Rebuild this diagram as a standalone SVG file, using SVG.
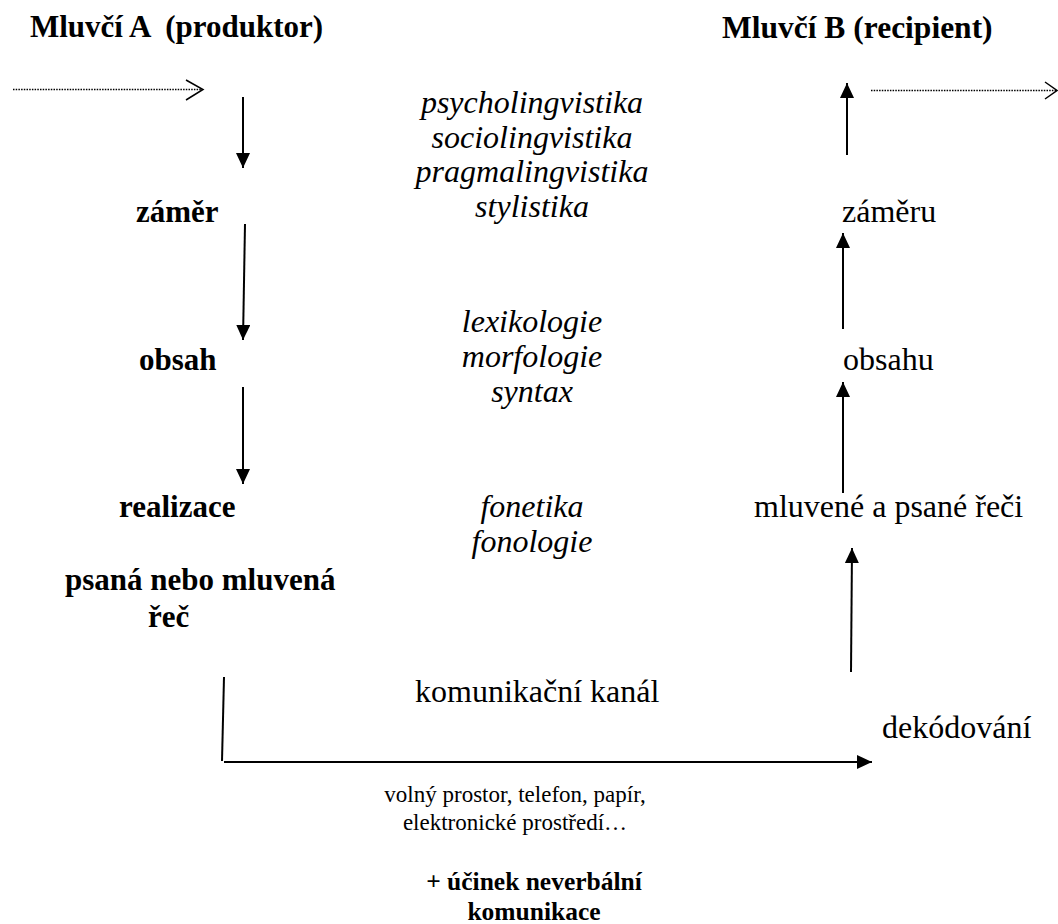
<svg xmlns="http://www.w3.org/2000/svg" width="1058" height="924" viewBox="0 0 1058 924">
<defs>
<style>
text{font-family:"Liberation Serif","Times New Roman",serif;fill:#000;white-space:pre}
.b{font-weight:bold;font-size:31px}
.r{font-size:32px}
.i{font-style:italic;font-size:32px;text-anchor:middle}
.s{font-size:23px;text-anchor:middle}
.sb{font-size:25.5px;font-weight:bold;text-anchor:middle}
.ln{stroke:#000;stroke-width:2;fill:none}
.dot{stroke:#000;stroke-width:1.5;stroke-dasharray:1.5 1.2;fill:none}
.chev{stroke:#000;stroke-width:1.5;fill:none}
</style>
<marker id="ah" markerUnits="userSpaceOnUse" markerWidth="16" markerHeight="14" refX="15" refY="7" orient="auto">
<path d="M0,0 L15,7 L0,14 z" fill="#000"/>
</marker>
</defs>
<rect width="1058" height="924" fill="#fff"/>
<g id="speakerA"><text class="b" x="30" y="37">Mluvčí A  (produktor)</text></g>
<g id="speakerB"><text class="b" x="722" y="38" style="font-size:31.5px">Mluvčí B (recipient)</text></g>
<g id="zamer"><text class="b" x="136" y="222">záměr</text></g>
<g id="obsah"><text class="b" x="139" y="370">obsah</text></g>
<g id="realizace"><text class="b" x="119" y="517">realizace</text></g>
<g id="rec"><text class="b" x="65" y="590">psaná nebo mluvená</text><text class="b" x="148" y="627">řeč</text></g>
<g id="disc1"><text class="i" x="532" y="113">psycholingvistika</text><text class="i" x="532" y="148">sociolingvistika</text><text class="i" x="532" y="182">pragmalingvistika</text><text class="i" x="532" y="217">stylistika</text></g>
<g id="disc2"><text class="i" x="532" y="332">lexikologie</text><text class="i" x="532" y="367">morfologie</text><text class="i" x="532" y="402">syntax</text></g>
<g id="disc3"><text class="i" x="532" y="517">fonetika</text><text class="i" x="532" y="552">fonologie</text></g>
<g id="zameru"><text class="r" x="842" y="222">záměru</text></g>
<g id="obsahu"><text class="r" x="843" y="370">obsahu</text></g>
<g id="reci"><text class="r" x="754" y="517">mluvené a psané řeči</text></g>
<g id="kanal"><text class="r" x="415" y="702">komunikační kanál</text></g>
<g id="dekodovani"><text class="r" x="882" y="738">dekódování</text></g>
<g id="media"><text class="s" x="515" y="802">volný prostor, telefon, papír,</text><text class="s" x="515" y="830">elektronické prostředí…</text></g>
<g id="neverbal"><text class="sb" x="534" y="890">+ účinek neverbální</text><text class="sb" x="534" y="920">komunikace</text></g>
<g id="connectors">
<line class="dot" x1="13" y1="89.5" x2="202" y2="89.5"/>
<polyline class="chev" points="186,80 203,89.5 186,100"/>
<line class="dot" x1="871" y1="90.5" x2="1056" y2="90.5"/>
<polyline class="chev" points="1045,82 1057,90.5 1045,99"/>
<line class="ln" x1="243" y1="97" x2="243" y2="168" marker-end="url(#ah)"/>
<line class="ln" x1="245" y1="224" x2="243" y2="340" marker-end="url(#ah)"/>
<line class="ln" x1="243" y1="387" x2="243" y2="484" marker-end="url(#ah)"/>
<line class="ln" x1="224" y1="677" x2="222" y2="761"/>
<line class="ln" x1="224" y1="762" x2="872" y2="762" marker-end="url(#ah)"/>
<line class="ln" x1="851" y1="672" x2="852" y2="548" marker-end="url(#ah)"/>
<line class="ln" x1="843" y1="493" x2="843" y2="382" marker-end="url(#ah)"/>
<line class="ln" x1="843" y1="329" x2="843" y2="233" marker-end="url(#ah)"/>
<line class="ln" x1="847" y1="155" x2="847" y2="83" marker-end="url(#ah)"/>
</g>
</svg>
